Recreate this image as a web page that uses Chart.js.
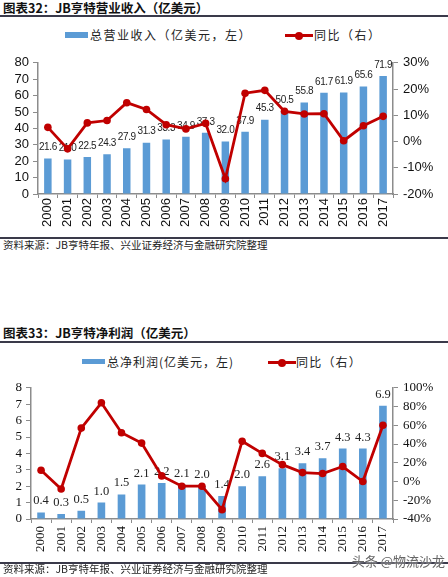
<!DOCTYPE html>
<html>
<head>
<meta charset="utf-8">
<script src="https://cdn.jsdelivr.net/npm/chart.js@4"></script>
<style>
  html, body { margin: 0; padding: 0; background: #fff; }
  body { width: 448px; height: 577px; position: relative; overflow: hidden; font-family: "Noto Sans CJK SC", sans-serif; color: #111; }
  .title { position: absolute; left: 3px; font-size: 12.5px; font-weight: 700; line-height: 16px; white-space: nowrap; }
  .rule { position: absolute; left: 0; width: 448px; height: 1.5px; background: #3a3a4a; }
  .legend { position: absolute; font-size: 12px; line-height: 16px; letter-spacing: 1.5px; white-space: nowrap; color: #222; }
  .swatch { position: absolute; height: 6px; background: #5b9bd5; }
  .lineKey { position: absolute; height: 3px; background: #c00000; }
  .lineKey::after { content: ""; position: absolute; left: 50%; top: 50%; width: 8px; height: 8px; margin: -4px 0 0 -4px; border-radius: 50%; background: #c00000; }
  .source { position: absolute; left: 3px; font-size: 10.5px; line-height: 14px; color: #222; white-space: nowrap; }
  .wrap { position: absolute; left: 0; width: 448px; }
  .mark { position: absolute; right: 3px; font-size: 13px; color: #666; text-shadow: 0 0 2px #fff; white-space: nowrap; }
</style>
</head>
<body>

<!-- chart 32 -->
<div class="title" style="top:0px">图表32：JB亨特营业收入（亿美元）</div>
<div class="rule" style="top:15px"></div>
<div class="swatch" style="left:65px; top:32px; width:23px"></div>
<div class="legend" style="left:90px; top:27px">总营业收入（亿美元，左）</div>
<div class="lineKey" style="left:285px; top:34px; width:28px"></div>
<div class="legend" style="left:314px; top:27px">同比（右）</div>
<div class="wrap" style="top:50px; height:186px"><canvas id="revenueChart"></canvas></div>
<div class="rule" style="top:237px"></div>
<div class="source" style="top:238px">资料来源：JB亨特年报、兴业证券经济与金融研究院整理</div>

<!-- chart 33 -->
<div class="title" style="top:325px">图表33：JB亨特净利润（亿美元）</div>
<div class="rule" style="top:341px"></div>
<div class="swatch" style="left:82px; top:359px; width:23px; height:5px"></div>
<div class="legend" style="left:107px; top:354px; letter-spacing:1px">总净利润(亿美元，左)</div>
<div class="lineKey" style="left:268px; top:361px; width:28px"></div>
<div class="legend" style="left:296px; top:354px; letter-spacing:1.2px">同比（右）</div>
<div class="wrap" style="top:375px; height:181px"><canvas id="profitChart"></canvas></div>
<div class="rule" style="top:562px"></div>
<div class="source" style="top:562px">资料来源：JB亨特年报、兴业证券经济与金融研究院整理</div>
<div class="mark" style="top:551px">头条 @物流沙龙</div>

<script>
// ------------------------
// DATA
// ------------------------

const years = ['2000', '2001', '2002', '2003', '2004', '2005', '2006', '2007', '2008',
  '2009', '2010', '2011', '2012', '2013', '2014', '2015', '2016', '2017']

// total revenue, 100M USD (left axis)
const revenue = [21.6, 21.0, 22.5, 24.3, 27.9, 31.3, 33.3, 34.9, 37.3,
  32.0, 37.9, 45.3, 50.5, 55.8, 61.7, 61.9, 65.6, 71.9]
// revenue growth, % (right axis)
const revenueGrowth = [5.4, -2.8, 7.1, 8.0, 14.8, 12.2, 6.4, 4.8, 6.9,
  -14.2, 18.4, 19.5, 11.5, 10.5, 10.6, 0.3, 6.0, 9.6]

// net profit, 100M USD (left axis)
const profit = [0.4, 0.3, 0.5, 1.0, 1.5, 2.1, 2.2, 2.1, 2.0,
  1.4, 2.0, 2.6, 3.1, 3.4, 3.7, 4.3, 4.3, 6.9]
// net profit growth, % (right axis)
const profitGrowth = [12, -8, 57, 84, 52, 41, 6, -5, -5,
  -30, 43, 30, 18, 9.5, 8.5, 16, 0, 60]

const revenueTicks = { min: 0, max: 80, step: 10, rightMin: -20, rightMax: 30, rightStep: 10 }
const profitTicks = { min: 0, max: 8, step: 1, rightMin: -40, rightMax: 100, rightStep: 20 }

const barBlue = '#5b9bd5'
const lineRed = '#c00000'
const axisGrey = '#8c8c8c'

// ------------------------
// BAR VALUE LABELS
// ------------------------

const barLabels = {
  id: 'barLabels',
  afterDatasetDraw(chart, args, opts) {
    if (args.meta.type !== 'bar') return
    const ctx = chart.ctx
    const values = chart.data.datasets[args.index].data
    ctx.save()
    ctx.font = opts.font
    ctx.letterSpacing = opts.spacing
    ctx.fillStyle = '#222'
    ctx.textAlign = 'center'
    ctx.textBaseline = 'bottom'
    args.meta.data.forEach((bar, i) => {
      ctx.fillText(values[i].toFixed(1), bar.x, bar.y - opts.offset)
    })
    ctx.restore()
  }
}

// ------------------------
// CHART BUILDER
// ------------------------

function makeChart(canvas, bars, growth, t, look) {
  return new Chart(canvas, {
    type: 'bar',
    data: {
      labels: years,
      datasets: [{
        type: 'line',
        data: growth,
        yAxisID: 'y1',
        order: 0,
        borderColor: lineRed,
        backgroundColor: lineRed,
        borderWidth: 2.8,
        pointRadius: 3.8,
        pointBackgroundColor: lineRed,
        pointBorderWidth: 0,
        tension: 0
      }, {
        type: 'bar',
        data: bars,
        yAxisID: 'y',
        order: 1,
        backgroundColor: barBlue,
        barPercentage: 0.38,
        categoryPercentage: 1
      }]
    },
    options: {
      responsive: true,
      maintainAspectRatio: false,
      animation: false,
      layout: { padding: { top: 12, left: 0, right: 0, bottom: 0 } },
      plugins: {
        legend: { display: false },
        tooltip: { enabled: false },
        barLabels: { font: look.labelFont, offset: look.labelOffset, spacing: look.labelSpacing }
      },
      scales: {
        x: {
          grid: { offset: true, drawOnChartArea: false, color: axisGrey, tickLength: 4 },
          border: { color: axisGrey, width: 1.5 },
          ticks: {
            autoSkip: false, minRotation: 90, maxRotation: 90, padding: look.xPad,
            color: '#111', font: { family: look.family, size: 13 }
          },
          afterFit(scale) { scale.height = look.xHeight }
        },
        y: {
          position: 'left',
          min: t.min, max: t.max,
          grid: { drawOnChartArea: false, color: axisGrey, tickLength: 5 },
          border: { color: axisGrey, width: 1.5 },
          ticks: {
            stepSize: t.step, autoSkip: false, padding: 4, color: '#111',
            font: { family: look.family, size: 13 }
          },
          afterFit(scale) { scale.width = look.leftWidth }
        },
        y1: {
          position: 'right',
          min: t.rightMin, max: t.rightMax,
          grid: { drawOnChartArea: false, color: axisGrey, tickLength: 5 },
          border: { color: axisGrey, width: 1.5 },
          ticks: {
            stepSize: t.rightStep, autoSkip: false, padding: 5, color: '#111',
            font: { family: look.family, size: 13 },
            callback: (v) => v + '%'
          },
          afterFit(scale) { scale.width = 55 }
        }
      }
    },
    plugins: [barLabels]
  })
}

// ------------------------
// DRAW
// ------------------------

makeChart(document.querySelector('#revenueChart'), revenue, revenueGrowth, revenueTicks, {
  family: '"Liberation Sans", Arial, sans-serif',
  labelFont: '10px "Liberation Sans", Arial, sans-serif',
  labelSpacing: '-0.4px',
  labelOffset: 6,
  leftWidth: 38,
  xHeight: 42,
  xPad: 0
})

makeChart(document.querySelector('#profitChart'), profit, profitGrowth, profitTicks, {
  family: '"Liberation Serif", "Times New Roman", serif',
  labelFont: '12.5px "Liberation Serif", "Times New Roman", serif',
  labelSpacing: '0px',
  labelOffset: 5,
  leftWidth: 31,
  xHeight: 37,
  xPad: 3
})
</script>
</body>
</html>
